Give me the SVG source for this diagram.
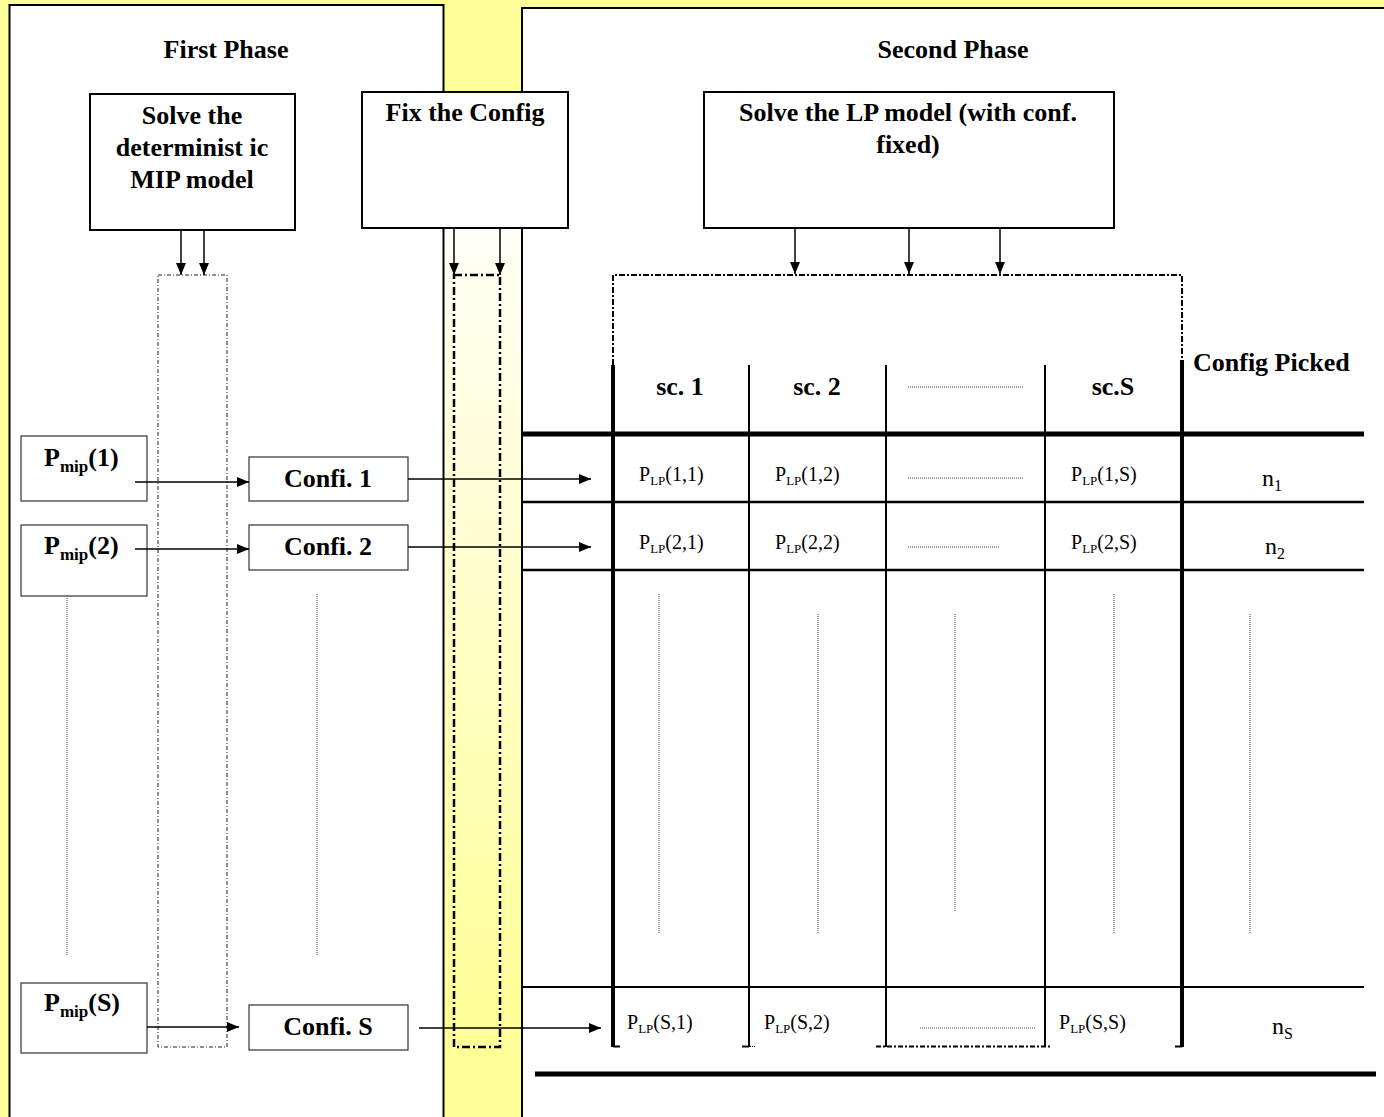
<svg xmlns="http://www.w3.org/2000/svg" width="1384" height="1117" viewBox="0 0 1384 1117">
<defs>
<marker id="ah" viewBox="0 0 12 10" refX="12" refY="5" markerWidth="12" markerHeight="10" markerUnits="userSpaceOnUse" orient="auto">
<path d="M0,0 L12,5 L0,10 z" fill="#000"/>
</marker>
<linearGradient id="strip" x1="0" y1="228" x2="0" y2="1010" gradientUnits="userSpaceOnUse">
<stop offset="0" stop-color="#FFFFF6"/>
<stop offset="1" stop-color="#FFFF99"/>
</linearGradient>
</defs>
<style>
.b{font-family:"Liberation Serif","Times New Roman",serif;font-weight:bold;font-size:26px;fill:#000}
.r{font-family:"Liberation Serif","Times New Roman",serif;font-size:20px;fill:#000}
.n{font-family:"Liberation Serif","Times New Roman",serif;font-size:24px;fill:#000}
.box{fill:#fff;stroke:#000;stroke-width:2}
.sbox{fill:#fff;stroke:#333;stroke-width:1.2}
.ln{stroke:#000;fill:none}
.arr{stroke:#000;stroke-width:1.5;fill:none;marker-end:url(#ah)}
.dot{stroke:#444;stroke-width:1;stroke-dasharray:1 1;fill:none}
</style>
<rect x="0" y="0" width="1384" height="1117" fill="#FFFF99"/>
<rect x="444" y="228" width="77" height="889" fill="url(#strip)"/>
<g id="panel-first"><rect x="9.5" y="5" width="434" height="1130" class="box"/><text class="b" x="226" y="58" text-anchor="middle">First Phase</text></g>
<g id="panel-second"><rect x="522" y="8" width="880" height="1130" class="box"/><text class="b" x="953" y="58" text-anchor="middle">Second Phase</text></g>
<g id="mip-box"><rect x="90" y="94" width="205" height="136" class="box"/>
<text class="b" x="192" y="124" text-anchor="middle">Solve the</text>
<text class="b" x="192" y="156" text-anchor="middle">determinist ic</text>
<text class="b" x="192" y="188" text-anchor="middle">MIP model</text></g>
<g id="fix-box"><rect x="362" y="92" width="206" height="136" class="box"/>
<text class="b" x="465" y="121" text-anchor="middle">Fix the Config</text></g>
<g id="lp-box"><rect x="704" y="92" width="410" height="136" class="box"/>
<text class="b" x="908" y="121" text-anchor="middle">Solve the LP model (with conf.</text>
<text class="b" x="908" y="153" text-anchor="middle">fixed)</text></g>
<g id="mip-bracket"><rect x="158" y="275" width="69" height="772" fill="none" stroke="#222" stroke-width="1" stroke-dasharray="4 2 1 2"/></g>
<g id="fix-bracket"><rect x="454" y="275" width="46" height="772" fill="none" stroke="#000" stroke-width="2.5" stroke-dasharray="8 3 2 3"/></g>
<g id="pmip1"><rect x="21" y="436" width="126" height="65" class="sbox"/>
<text class="b" x="44" y="466">P<tspan font-size="17" dy="6">mip</tspan><tspan dy="-6">(1)</tspan></text></g>
<g id="pmip2"><rect x="21" y="525" width="126" height="71" class="sbox"/>
<text class="b" x="44" y="554">P<tspan font-size="17" dy="6">mip</tspan><tspan dy="-6">(2)</tspan></text></g>
<g id="pmipS"><rect x="21" y="983" width="126" height="70" class="sbox"/>
<text class="b" x="44" y="1011">P<tspan font-size="17" dy="6">mip</tspan><tspan dy="-6">(S)</tspan></text></g>
<g id="confi1"><rect x="249" y="457" width="159" height="44" class="sbox"/><text class="b" x="328" y="487" text-anchor="middle">Confi. 1</text></g>
<g id="confi2"><rect x="249" y="525" width="159" height="45" class="sbox"/><text class="b" x="328" y="555" text-anchor="middle">Confi. 2</text></g>
<g id="confiS"><rect x="249" y="1005" width="159" height="45" class="sbox"/><text class="b" x="328" y="1035" text-anchor="middle">Confi. S</text></g>
<g id="dots-left">
<line x1="67" y1="596" x2="67" y2="955" class="dot"/>
<line x1="317" y1="594" x2="317" y2="955" class="dot"/>
</g>
<g id="table">
<path d="M613,365 V275 H1182 V360" class="ln" stroke-width="2" stroke-dasharray="6 2 2 2"/>
<line x1="522" y1="434" x2="1364" y2="434" class="ln" stroke-width="5"/>
<line x1="522" y1="502" x2="1364" y2="502" class="ln" stroke-width="2.5"/>
<line x1="522" y1="570" x2="1364" y2="570" class="ln" stroke-width="2.5"/>
<line x1="522" y1="987" x2="1364" y2="987" class="ln" stroke-width="2"/>
<line x1="535" y1="1074" x2="1376" y2="1074" class="ln" stroke-width="5"/>
<line x1="613" y1="365" x2="613" y2="1047" class="ln" stroke-width="4"/>
<line x1="1182" y1="360" x2="1182" y2="1047" class="ln" stroke-width="4"/>
<line x1="749" y1="365" x2="749" y2="1047" class="ln" stroke-width="2"/>
<line x1="886" y1="365" x2="886" y2="1047" class="ln" stroke-width="2"/>
<line x1="1045" y1="365" x2="1045" y2="1047" class="ln" stroke-width="2"/>
<line x1="613" y1="1046.5" x2="620" y2="1046.5" class="ln" stroke-width="2"/>
<line x1="742" y1="1046.5" x2="749" y2="1046.5" class="ln" stroke-width="2"/>
<line x1="750" y1="1046.5" x2="756" y2="1046.5" class="ln" stroke-width="1" stroke-dasharray="1 1"/>
<line x1="876" y1="1046.5" x2="1052" y2="1046.5" class="ln" stroke-width="2" stroke-dasharray="5 2 2 2"/>
<line x1="1175" y1="1046.5" x2="1182" y2="1046.5" class="ln" stroke-width="2"/>
<text class="b" x="680" y="395" text-anchor="middle">sc. 1</text>
<text class="b" x="817" y="395" text-anchor="middle">sc. 2</text>
<line x1="908" y1="387" x2="1023" y2="387" class="dot"/>
<text class="b" x="1113" y="395" text-anchor="middle">sc.S</text>
<text class="b" x="1193" y="371">Config Picked</text>
<text class="r" x="639" y="481">P<tspan font-size="13" dy="4">LP</tspan><tspan dy="-4">(1,1)</tspan></text>
<text class="r" x="775" y="481">P<tspan font-size="13" dy="4">LP</tspan><tspan dy="-4">(1,2)</tspan></text>
<line x1="908" y1="478" x2="1023" y2="478" class="dot"/>
<text class="r" x="1071" y="481">P<tspan font-size="13" dy="4">LP</tspan><tspan dy="-4">(1,S)</tspan></text>
<text class="n" x="1262" y="486">n<tspan font-size="16" dy="5">1</tspan></text>
<text class="r" x="639" y="549">P<tspan font-size="13" dy="4">LP</tspan><tspan dy="-4">(2,1)</tspan></text>
<text class="r" x="775" y="549">P<tspan font-size="13" dy="4">LP</tspan><tspan dy="-4">(2,2)</tspan></text>
<line x1="908" y1="547" x2="1000" y2="547" class="dot"/>
<text class="r" x="1071" y="549">P<tspan font-size="13" dy="4">LP</tspan><tspan dy="-4">(2,S)</tspan></text>
<text class="n" x="1265" y="554">n<tspan font-size="16" dy="5">2</tspan></text>
<line x1="659" y1="594" x2="659" y2="934" class="dot"/>
<line x1="818" y1="614" x2="818" y2="934" class="dot"/>
<line x1="955" y1="614" x2="955" y2="911" class="dot"/>
<line x1="1114" y1="594" x2="1114" y2="934" class="dot"/>
<line x1="1250" y1="614" x2="1250" y2="934" class="dot"/>
<text class="r" x="627" y="1029">P<tspan font-size="13" dy="4">LP</tspan><tspan dy="-4">(S,1)</tspan></text>
<text class="r" x="764" y="1029">P<tspan font-size="13" dy="4">LP</tspan><tspan dy="-4">(S,2)</tspan></text>
<line x1="920" y1="1028" x2="1035" y2="1028" class="dot"/>
<text class="r" x="1059" y="1029">P<tspan font-size="13" dy="4">LP</tspan><tspan dy="-4">(S,S)</tspan></text>
<text class="n" x="1272" y="1034">n<tspan font-size="16" dy="5">S</tspan></text>
</g>
<g id="connectors">
<line x1="181" y1="230" x2="181" y2="275" class="arr"/>
<line x1="204" y1="230" x2="204" y2="275" class="arr"/>
<line x1="454" y1="228" x2="454" y2="275" class="arr"/>
<line x1="500" y1="228" x2="500" y2="275" class="arr"/>
<line x1="795" y1="228" x2="795" y2="274" class="arr"/>
<line x1="909" y1="228" x2="909" y2="274" class="arr"/>
<line x1="1000" y1="228" x2="1000" y2="274" class="arr"/>
<line x1="135" y1="482" x2="249" y2="482" class="arr"/>
<line x1="135" y1="549" x2="249" y2="549" class="arr"/>
<line x1="147" y1="1027" x2="239" y2="1027" class="arr"/>
<line x1="408" y1="479" x2="591" y2="479" class="arr"/>
<line x1="408" y1="547" x2="591" y2="547" class="arr"/>
<line x1="419" y1="1028" x2="601" y2="1028" class="arr"/>
</g>
</svg>
